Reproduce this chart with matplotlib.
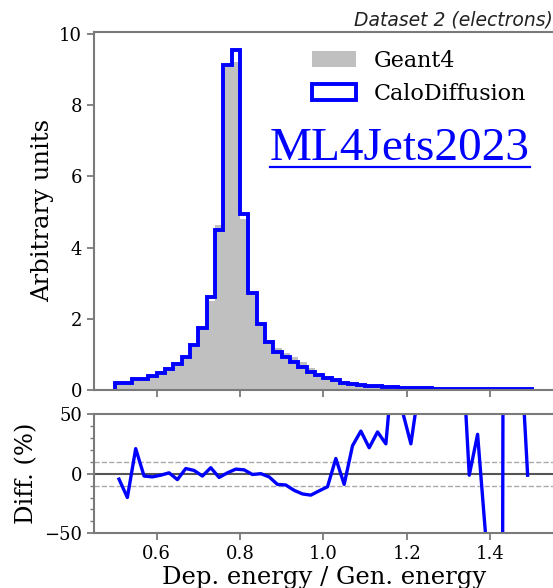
import numpy as np
import matplotlib
matplotlib.use("Agg")
import matplotlib.pyplot as plt
from matplotlib.patches import Patch
from matplotlib.ticker import MultipleLocator

# ----------------------------
# Data
# ----------------------------
BIN_LO, BIN_HI, N_BINS = 0.5, 1.5, 50

calo = [0.19, 0.21, 0.30, 0.31, 0.39, 0.49, 0.60, 0.74, 0.94, 1.27,
        1.75, 2.62, 4.48, 9.12, 9.55, 4.94, 2.72, 1.84, 1.36, 1.07,
        0.93, 0.79, 0.65, 0.51, 0.42, 0.35, 0.27, 0.21, 0.17, 0.14,
        0.12, 0.10, 0.09, 0.08, 0.07, 0.06, 0.05, 0.045, 0.04, 0.035,
        0.03, 0.028, 0.026, 0.024, 0.022, 0.021, 0.02, 0.019, 0.018, 0.017]

geant = [0.20, 0.26, 0.25, 0.32, 0.40, 0.50, 0.60, 0.78, 0.90, 1.24,
         1.79, 2.50, 4.63, 9.06, 9.20, 4.79, 2.74, 1.84, 1.40, 1.18,
         1.03, 0.92, 0.78, 0.62, 0.49, 0.39, 0.24, 0.23, 0.14, 0.10,
         0.098, 0.074, 0.072, 0.04, 0.046, 0.048, 0.029, 0.0, 0.0, 0.0,
         0.0, 0.0, 0.026, 0.018, 0.049, 0.0, 0.066, 0.0006, 0.008, 0.017]

# percent difference per bin (nan where Geant4 is empty)
diff = [-4.6, -20.0, 21.0, -2.0, -2.7, -1.3, 0.7, -5.0, 4.3, 2.7,
        -2.0, 5.0, -3.2, 0.7, 3.8, 3.2, -0.7, 0.0, -2.7, -9.0,
        -9.5, -14.0, -17.0, -18.0, -14.4, -11.0, 12.7, -9.0, 23.4, 35.7,
        21.7, 35.0, 25.0, 103.0, 52.0, 25.0, 73.0, np.nan, np.nan, np.nan,
        np.nan, 126.0, -1.3, 33.0, -55.0, np.nan, -70.0, 3000.0, 127.0, -1.3]

edges = np.linspace(BIN_LO, BIN_HI, N_BINS + 1)
centers = 0.5 * (edges[1:] + edges[:-1])

SPINE = "#7a7a7a"
plt.rcParams["font.family"] = "DejaVu Serif"

fig = plt.figure(figsize=(5.53, 5.88), dpi=100)
ax = fig.add_axes([0.170, 0.3367, 0.8335, 0.6094])
rax = fig.add_axes([0.170, 0.0930, 0.8335, 0.2029])

# ---------- main histogram ----------
ax.stairs(geant, edges, fill=True, color="#c0c0c0")
ax.stairs(calo, edges, color="blue", lw=2.8)
ax.set_xlim(0.45, 1.5555)
ax.set_ylim(0, 10.06)
ax.set_ylabel("Arbitrary units", fontsize=17.5)
ax.tick_params(labelbottom=False, labelsize=13, color=SPINE, width=1.3, length=5)
ax.set_yticks([0, 2, 4, 6, 8, 10])
ax.set_xticks([0.6, 0.8, 1.0, 1.2, 1.4])

handles = [Patch(facecolor="#c0c0c0", edgecolor="none", label="Geant4"),
           Patch(facecolor="none", edgecolor="blue", lw=2.8, label="CaloDiffusion")]
ax.legend(handles=handles, loc="upper left", bbox_to_anchor=(0.472, 0.95),
          frameon=False, fontsize=16, borderpad=0, borderaxespad=0,
          handlelength=2.0, handletextpad=0.8)

fig.text(0.999, 0.956, "Dataset 2 (electrons)", ha="right", va="baseline",
         fontsize=13.5, style="italic", family="DejaVu Sans", color="#222222")

wm = fig.text(270 / 553, 1 - 160 / 588, "ML4Jets2023", ha="left", va="baseline",
              fontsize=34, color="blue", family="Liberation Serif")
fig.canvas.draw()
bb = wm.get_window_extent()
uy = 1 - 166.5 / 588
fig.add_artist(plt.Line2D([bb.x0 / fig.bbox.width, bb.x1 / fig.bbox.width], [uy, uy],
                          transform=fig.transFigure, color="blue", lw=1.6))

# ---------- ratio panel ----------
rax.plot(centers, diff, color="blue", lw=2.4)
rax.axhline(0, color="#555555", lw=1.5, zorder=0)
rax.axhline(10, color="#aaaaaa", lw=1, ls="--", zorder=0)
rax.axhline(-10, color="#aaaaaa", lw=1, ls="--", zorder=0)
rax.set_xlim(0.45, 1.5555)
rax.set_ylim(-50, 50)
rax.set_yticks([-50, 0, 50])
rax.yaxis.set_minor_locator(MultipleLocator(10))
rax.set_xticks([0.6, 0.8, 1.0, 1.2, 1.4])
rax.tick_params(labelsize=13, color=SPINE, width=1.3, length=5)
rax.tick_params(which="minor", color=SPINE, width=1.0, length=3)
rax.set_ylabel("Diff. (%)", fontsize=17.5, labelpad=4)
rax.set_xlabel("Dep. energy / Gen. energy", fontsize=17.5, labelpad=2)

for a in (ax, rax):
    for s in a.spines.values():
        s.set_color(SPINE)
        s.set_linewidth(1.5)
    a.spines["right"].set_visible(False)

fig.savefig("out.png", dpi=100)
